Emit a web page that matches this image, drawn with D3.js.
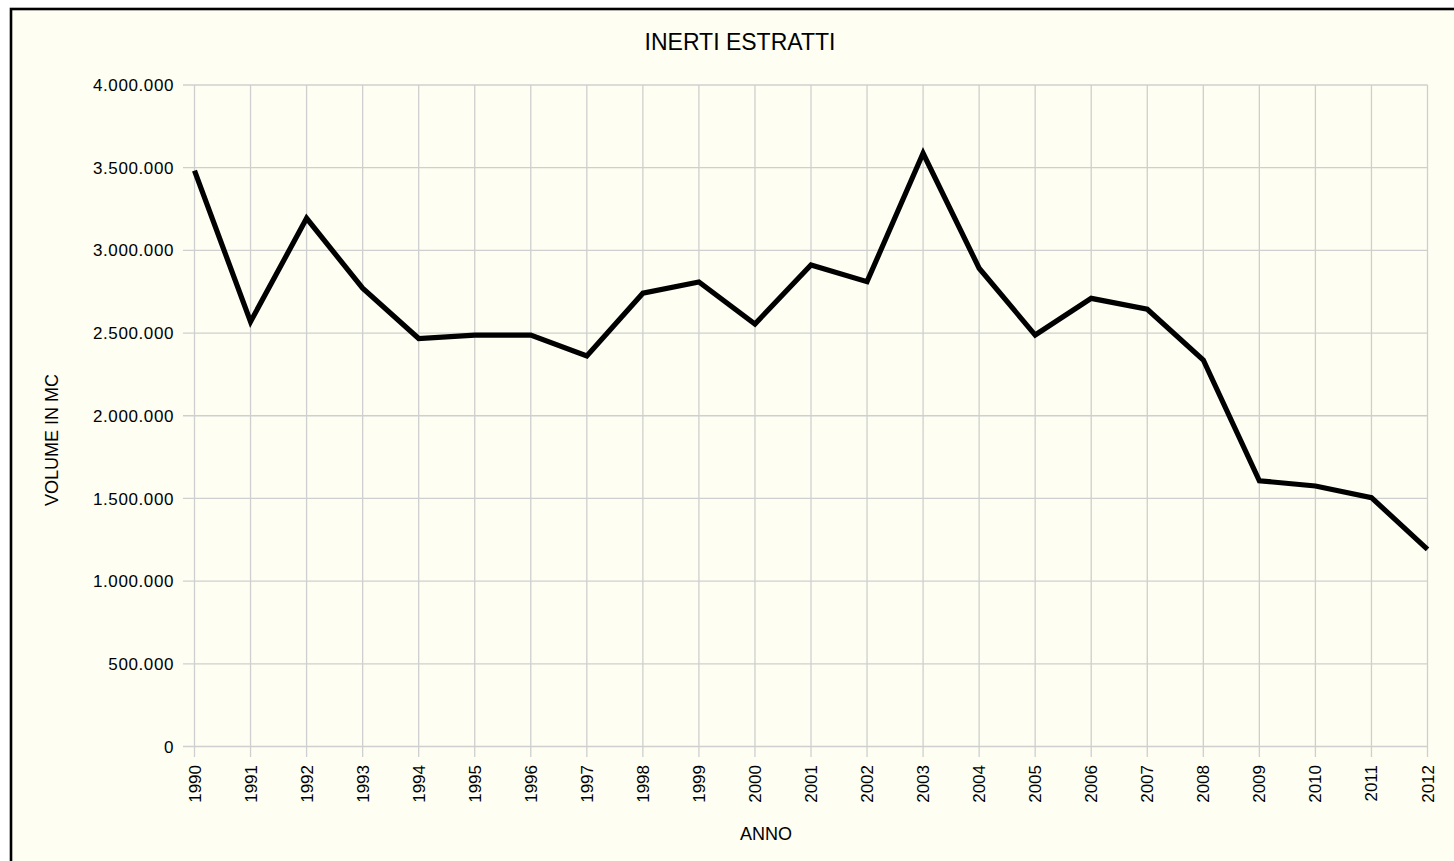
<!DOCTYPE html>
<html><head><meta charset="utf-8">
<script src="https://cdn.jsdelivr.net/npm/d3@7"></script>
<style>html,body{margin:0;padding:0;background:#fff;}svg{display:block;}text{font-family:"Liberation Sans",Arial,sans-serif;fill:#000;}</style>
</head><body>
<script>
const years = ["1990","1991","1992","1993","1994","1995","1996","1997","1998","1999","2000","2001","2002","2003","2004","2005","2006","2007","2008","2009","2010","2011","2012"];
const volumes = [3482000,2569000,3194000,2771000,2467000,2488000,2488000,2361000,2741000,2809000,2555000,2912000,2811000,3587000,2892000,2488000,2710000,2644000,2337000,1607000,1575000,1505000,1192000];
const yTicks = [0,500000,1000000,1500000,2000000,2500000,3000000,3500000,4000000];
const title = "INERTI ESTRATTI";
const xTitle = "ANNO";
const yTitle = "VOLUME IN MC";

const W = 1454, H = 861;
const svg = d3.select("body").append("svg").attr("width", W).attr("height", H);
svg.append("rect").attr("x", 11).attr("y", 9).attr("width", W + 20).attr("height", H + 20)
  .attr("fill", "#fefef2").attr("stroke", "#000").attr("stroke-width", 2.6);

const x = d3.scalePoint().domain(years).range([194.5, 1427.5]);
const y = d3.scaleLinear().domain([0, 4000000]).range([746.5, 85]);
const fmt = v => d3.format(",")(v).replace(/,/g, ".");

// grid
svg.append("g").selectAll("line").data(yTicks).join("line")
  .attr("x1", 183).attr("x2", 1427.5).attr("y1", d => y(d)).attr("y2", d => y(d))
  .attr("stroke", "#cfcfcf").attr("stroke-width", 1.3);
svg.append("g").selectAll("line").data(years).join("line")
  .attr("x1", d => x(d)).attr("x2", d => x(d)).attr("y1", 85).attr("y2", 757)
  .attr("stroke", "#cfcfcf").attr("stroke-width", 1.3);

// y labels
svg.append("g").selectAll("text").data(yTicks).join("text")
  .attr("x", 174).attr("y", d => y(d)).attr("dy", "0.36em")
  .attr("text-anchor", "end").style("font-size", "17px").attr("letter-spacing", "0.6px")
  .text(fmt);

// x labels
svg.append("g").selectAll("text").data(years).join("text")
  .attr("transform", d => `translate(${x(d) + 6},765) rotate(-90)`)
  .attr("text-anchor", "end").style("font-size", "17px")
  .text(d => d);

// line
svg.append("path").datum(volumes)
  .attr("d", d3.line().x((d, i) => x(years[i])).y(d => y(d)))
  .attr("fill", "none").attr("stroke", "#000").attr("stroke-width", 5.2)
  .attr("stroke-linejoin", "miter");

// titles
svg.append("text").attr("x", 740).attr("y", 50).attr("text-anchor", "middle")
  .style("font-size", "23px").text(title);
svg.append("text").attr("x", 766).attr("y", 840).attr("text-anchor", "middle")
  .style("font-size", "18px").text(xTitle);
svg.append("text").attr("transform", "translate(58,440) rotate(-90)").attr("text-anchor", "middle")
  .style("font-size", "18px").text(yTitle);
</script>
</body></html>
